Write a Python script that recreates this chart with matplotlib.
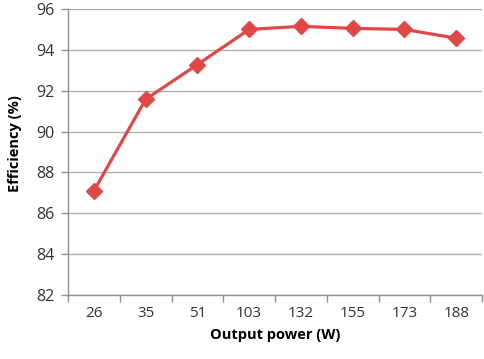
import matplotlib
matplotlib.use("Agg")
import matplotlib.pyplot as plt
import numpy as np

# Efficiency vs output power
power_labels = ["26", "35", "51", "103", "132", "155", "173", "188"]
efficiency = [87.1, 91.58, 93.28, 95.0, 95.15, 95.05, 95.0, 94.57]
y_ticks = [82, 84, 86, 88, 90, 92, 94, 96]

plt.rcParams["font.family"] = ["Open Sans", "DejaVu Sans"]

fig = plt.figure(figsize=(4.84, 3.59), dpi=100)
ax = fig.add_axes([0.1405, 0.178, 0.8555, 0.797])

x = np.arange(len(power_labels))
ax.plot(x, efficiency, color="#E04848", linewidth=2.3, marker="D",
        markersize=8, zorder=3)

ax.set_xlim(-0.5, len(power_labels) - 0.5)
ax.set_ylim(82, 96)
ax.set_yticks(y_ticks)
ax.set_xticks(x)
ax.set_xticklabels(power_labels)
ax.set_xticks(np.arange(-0.5, len(power_labels)), minor=True)
ax.tick_params(axis="x", which="major", length=0, pad=8, labelsize=11, colors="#333333")
ax.tick_params(axis="x", which="minor", length=5, color="#909090", width=1)
ax.tick_params(axis="y", length=5, color="#909090", width=1, labelsize=11.5,
               colors="#333333", pad=5)

ax.grid(axis="y", color="#B0B0B0", linewidth=1)
ax.set_axisbelow(True)
for side in ["top", "right"]:
    ax.spines[side].set_visible(False)
for side in ["left", "bottom"]:
    ax.spines[side].set_color("#909090")
    ax.spines[side].set_linewidth(1)

ax.set_xlabel("Output power (W)", fontsize=10.5, fontweight="bold", labelpad=5)
ax.set_ylabel("Efficiency (%)", fontsize=10.5, fontweight="bold")
ax.yaxis.set_label_coords(-0.11, 0.53)

fig.savefig("out.png", dpi=100)
